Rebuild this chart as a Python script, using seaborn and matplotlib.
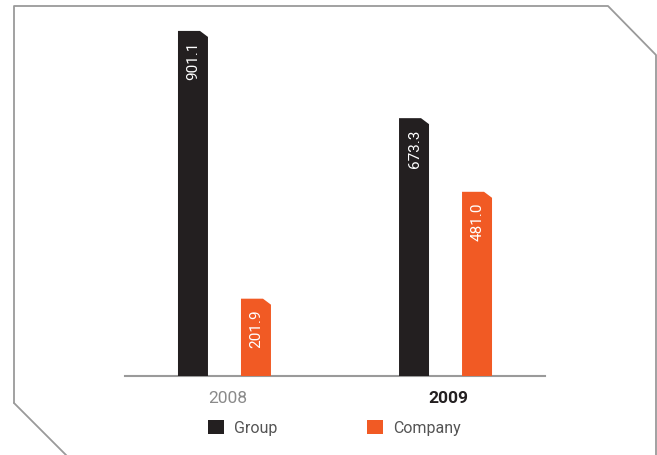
import matplotlib
matplotlib.use("Agg")
import matplotlib.pyplot as plt
from matplotlib.patches import Polygon, Patch
from matplotlib.lines import Line2D
from matplotlib.transforms import ScaledTranslation
import seaborn as sns
import pandas as pd

years = ["2008", "2009"]
series = ["Group", "Company"]
group_values = [901.1, 673.3]
company_values = [201.9, 481.0]
value_labels = {"Group": ["901.1", "673.3"], "Company": ["201.9", "481.0"]}

colors = {"Group": "#231f20", "Company": "#f15a24"}

df = pd.DataFrame({
    "year": years * 2,
    "series": ["Group"] * 2 + ["Company"] * 2,
    "value": group_values + company_values,
})

sns.set_style("white")
plt.rcParams["font.family"] = ["Roboto", "DejaVu Sans"]

W, H = 657, 455
fig = plt.figure(figsize=(W / 100, H / 100), dpi=100)
ax = fig.add_axes([125 / W, 79 / H, 420 / W, 363.8 / H])

sns.barplot(data=df, x="year", y="value", hue="series", order=years,
            hue_order=series, palette=colors, width=0.57, gap=0.524,
            dodge=True, legend=False, ax=ax, saturation=1)

ax.set_xlim(-0.45, 1.45)
ax.set_ylim(0, 950)

# Replace each rectangle with a bar whose top-right corner is clipped
px_x = 1.9 / 420.0     # data units per pixel horizontally
px_y = 950 / 363.8     # data units per pixel vertically
for p in list(ax.patches):
    x0 = p.get_x()
    w = p.get_width()
    h = p.get_height()
    if h <= 0:
        continue
    fc = p.get_facecolor()
    cx = 8 * px_x
    cy = 6 * px_y
    poly = Polygon([(x0, 0), (x0 + w, 0), (x0 + w, h - cy), (x0 + w - cx, h),
                    (x0, h)], closed=True, facecolor=fc, edgecolor="none",
                   zorder=3)
    ax.add_patch(poly)
    p.remove()

# Value labels inside the bars
offsets = {"Group": -0.1425, "Company": 0.1425}
for s in series:
    vals = group_values if s == "Group" else company_values
    for i, v in enumerate(vals):
        ax.annotate(value_labels[s][i], xy=(i + offsets[s], v),
                    xytext=(0.5, -8), textcoords="offset points",
                    rotation=90, ha="center", va="top", color="white",
                    fontsize=11, zorder=4)

for side in ["top", "right", "left"]:
    ax.spines[side].set_visible(False)
ax.spines["bottom"].set_color("#9a9a9a")
ax.spines["bottom"].set_linewidth(1.5)
ax.set_yticks([])
ax.set_xlabel("")
ax.set_ylabel("")
ax.tick_params(axis="x", length=0, pad=10.5, labelsize=12.5)
ticklabels = ax.get_xticklabels()
ticklabels[0].set_color("#8a8a8a")
ticklabels[1].set_color("#231f20")
ticklabels[1].set_fontweight("bold")
shift = ScaledTranslation(3 / 100, 0, fig.dpi_scale_trans)
for t in ticklabels:
    t.set_transform(t.get_transform() + shift)

# Legend
handles = [Patch(facecolor=colors[s], edgecolor="none") for s in series]
fig.legend(handles, series, loc="center left",
           bbox_to_anchor=(208 / W, 1 - 428 / H), bbox_transform=fig.transFigure,
           ncol=2, frameon=False, fontsize=11.5, handlelength=1.0,
           handleheight=1.0, handletextpad=0.65, columnspacing=5.6,
           borderpad=0, borderaxespad=0, labelcolor="#555555")

# Frame with clipped corners
fx = [14, 14, 608, 656, 656]
fy = [403, 6, 6, 55, 460]
fig.add_artist(Line2D([x / W for x in fx], [1 - y / H for y in fy],
                      transform=fig.transFigure, color="#9a9a9a", lw=1.3))
bx = [14, 67]
by = [403, 456]
fig.add_artist(Line2D([x / W for x in bx], [1 - y / H for y in by],
                      transform=fig.transFigure, color="#9a9a9a", lw=1.3))

fig.savefig("out.png", dpi=100)
